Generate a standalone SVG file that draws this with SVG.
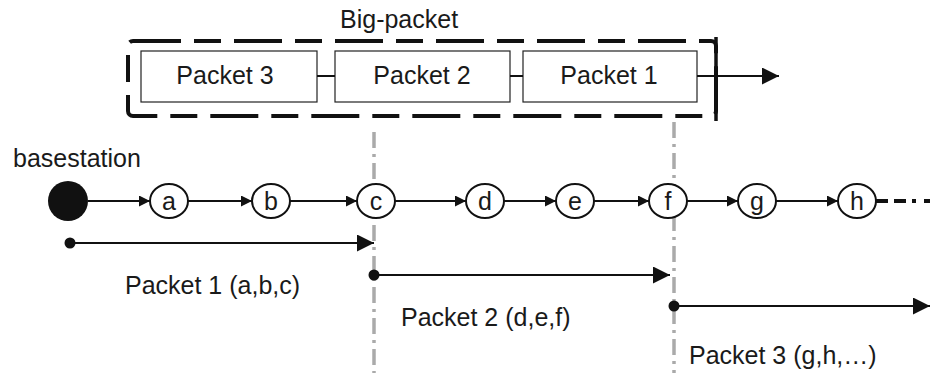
<svg xmlns="http://www.w3.org/2000/svg" width="930" height="373" viewBox="0 0 930 373">
<defs>
<style>
text{font-family:"Liberation Sans",Arial,sans-serif;fill:#1a1a1a}
.lbl{font-size:25px}
.pk{fill:#fff;stroke:#222;stroke-width:1.2}
.nd{fill:#fff;stroke:#111;stroke-width:2}
.ln{stroke:#111;stroke-width:2;fill:none}
.gray{stroke:#aaa;stroke-width:3.5;fill:none;stroke-dasharray:16 6 3 6}
</style>
<marker id="ah" viewBox="0 0 10 10" refX="10" refY="5" markerWidth="15" markerHeight="11" markerUnits="userSpaceOnUse" orient="auto">
<path d="M0,0 L10,5 L0,10 z" fill="#111"/>
</marker>
<marker id="ahb" viewBox="0 0 10 10" refX="10" refY="5" markerWidth="19" markerHeight="17" markerUnits="userSpaceOnUse" orient="auto">
<path d="M0,0 L10,5 L0,10 z" fill="#111"/>
</marker>
</defs>
<g id="guides">
<line class="gray" x1="374" y1="132" x2="374" y2="373"/>
<line class="gray" x1="674" y1="122" x2="674" y2="373"/>
</g>
<g id="big-packet">
<text class="lbl" x="340" y="28">Big-packet</text>
<rect x="128" y="41" width="588" height="75" rx="5" fill="none" stroke="#111" stroke-width="4" stroke-dasharray="48 13 27 13"/>
<line x1="716" y1="37" x2="716" y2="121" stroke="#111" stroke-width="3.5"/>
</g>
<g id="packet3"><rect class="pk" x="141" y="51" width="176" height="51"/><text class="lbl" x="225" y="84" text-anchor="middle">Packet 3</text></g>
<g id="packet2"><rect class="pk" x="335" y="51" width="175" height="51"/><text class="lbl" x="422" y="84" text-anchor="middle">Packet 2</text></g>
<g id="packet1"><rect class="pk" x="523" y="51" width="174" height="51"/><text class="lbl" x="609" y="84" text-anchor="middle">Packet 1</text></g>
<g id="basestation">
<text class="lbl" x="13" y="167">basestation</text>
<circle cx="68" cy="201" r="20" fill="#111"/>
</g>
<g id="node-a"><ellipse class="nd" cx="169" cy="201" rx="19" ry="17"/><text class="lbl" x="169" y="210" text-anchor="middle">a</text></g>
<g id="node-b"><ellipse class="nd" cx="271" cy="201" rx="19" ry="17"/><text class="lbl" x="271" y="210" text-anchor="middle">b</text></g>
<g id="node-c"><ellipse class="nd" cx="376" cy="201" rx="19" ry="17"/><text class="lbl" x="376" y="210" text-anchor="middle">c</text></g>
<g id="node-d"><ellipse class="nd" cx="485" cy="201" rx="19" ry="17"/><text class="lbl" x="485" y="210" text-anchor="middle">d</text></g>
<g id="node-e"><ellipse class="nd" cx="575" cy="201" rx="19" ry="17"/><text class="lbl" x="575" y="210" text-anchor="middle">e</text></g>
<g id="node-f"><ellipse class="nd" cx="668" cy="201" rx="19" ry="17"/><text class="lbl" x="668" y="210" text-anchor="middle">f</text></g>
<g id="node-g"><ellipse class="nd" cx="757" cy="201" rx="19" ry="17"/><text class="lbl" x="757" y="210" text-anchor="middle">g</text></g>
<g id="node-h"><ellipse class="nd" cx="857" cy="201" rx="19" ry="17"/><text class="lbl" x="857" y="210" text-anchor="middle">h</text></g>
<g id="labels">
<text class="lbl" x="125" y="294">Packet 1 (a,b,c)</text>
<text class="lbl" x="401" y="326">Packet 2 (d,e,f)</text>
<text class="lbl" x="689" y="364">Packet 3 (g,h,…)</text>
</g>
<g id="connectors">
<line class="ln" x1="317" y1="76" x2="335" y2="76"/>
<line class="ln" x1="510" y1="76" x2="523" y2="76"/>
<line class="ln" x1="697" y1="76" x2="779" y2="76" marker-end="url(#ahb)"/>
<line class="ln" x1="88" y1="201" x2="150" y2="201" marker-end="url(#ah)"/>
<line class="ln" x1="188" y1="201" x2="252" y2="201" marker-end="url(#ah)"/>
<line class="ln" x1="290" y1="201" x2="357" y2="201" marker-end="url(#ah)"/>
<line class="ln" x1="395" y1="201" x2="466" y2="201" marker-end="url(#ah)"/>
<line class="ln" x1="504" y1="201" x2="556" y2="201" marker-end="url(#ah)"/>
<line class="ln" x1="594" y1="201" x2="649" y2="201" marker-end="url(#ah)"/>
<line class="ln" x1="687" y1="201" x2="738" y2="201" marker-end="url(#ah)"/>
<line class="ln" x1="776" y1="201" x2="838" y2="201" marker-end="url(#ah)"/>
<line x1="876" y1="201" x2="930" y2="201" stroke="#111" stroke-width="4" stroke-dasharray="12 6 12 6 4 8"/>
<circle cx="70" cy="243" r="5.5" fill="#111"/>
<line class="ln" x1="70" y1="243" x2="374" y2="243" marker-end="url(#ahb)"/>
<circle cx="374" cy="275" r="5.5" fill="#111"/>
<line class="ln" x1="374" y1="275" x2="670" y2="275" marker-end="url(#ahb)"/>
<circle cx="674" cy="306" r="5.5" fill="#111"/>
<line class="ln" x1="674" y1="306" x2="930" y2="306" marker-end="url(#ahb)"/>
</g>
</svg>
